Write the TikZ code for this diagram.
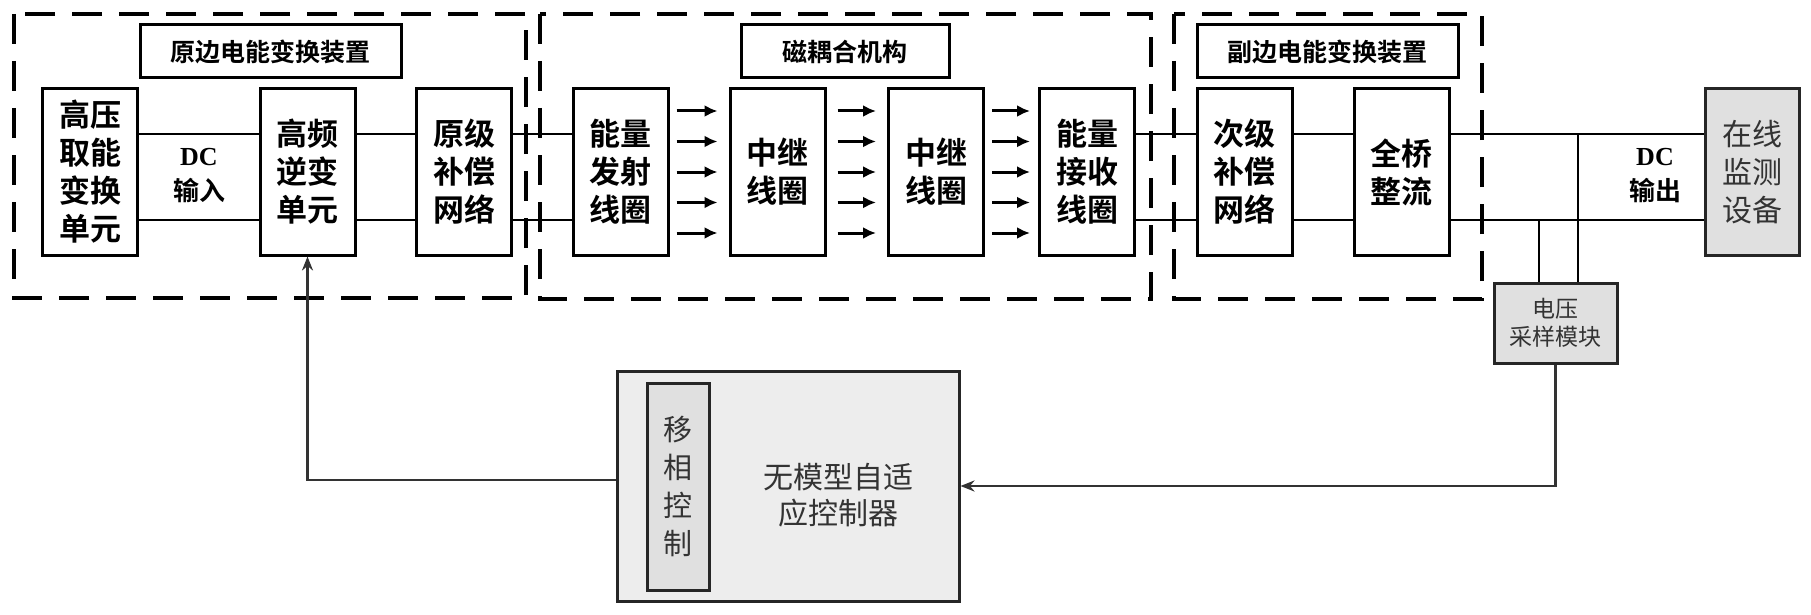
\documentclass[tikz,border=0pt]{standalone}
\usepackage{fontspec}
\setmainfont{Liberation Serif}
\newfontfamily\cjk{Noto Sans CJK SC}[BoldFont={Noto Sans CJK SC Bold}]
\usetikzlibrary{arrows.meta}
\usetikzlibrary{calc}

\begin{document}
\begin{tikzpicture}[x=1pt,y=-1pt,
  blk/.style={draw,line width=3pt,minimum width=95pt,minimum height=166pt,inner sep=0pt,align=center,
    font=\fontsize{31}{38}\selectfont\cjk\bfseries},
  ttl/.style={draw,line width=3pt,minimum height=53pt,inner sep=0pt,font=\fontsize{25}{30}\selectfont\cjk\bfseries},
  grp/.style={line width=4pt,dash pattern=on 30pt off 17pt},
  wire/.style={line width=2.8pt},
  tap/.style={line width=2.2pt},
  flow/.style={line width=3pt,-{Latex[length=13pt,width=12pt]}},
  fb/.style={line width=2.6pt,draw=black!80,-{Stealth[length=14pt,width=11pt]}},
  lbl/.style={align=center,inner sep=0pt,font=\fontsize{26}{35}\selectfont\bfseries},
  gbox/.style={draw=black!85,line width=3pt,fill=black!12,inner sep=0pt,align=center,text=black!80}
]
\useasboundingbox (0,0) rectangle (1811,615);

% dashed groups
\draw [grp] (14,14) rectangle (526,298);
\draw [grp] (540,14) rectangle (1151,299);
\draw [grp] (1174,14) rectangle (1482,299);

\node [ttl,minimum width=261pt] (t1) at (270.5,51.5) {原边电能变换装置};
\node [ttl,minimum width=208pt] (t2) at (845,51.5) {磁耦合机构};
\node [ttl,minimum width=261pt] (t3) at (1327.5,51.5) {副边电能变换装置};

\coordinate (up) at (0,134);
\coordinate (dn) at (0,220);

\node [blk] (hv) at (90,172) {高压\\取能\\变换\\单元};
\node [blk] (inv) at (307.5,172) {高频\\逆变\\单元};
\node [blk] (pc) at (464,172) {原级\\补偿\\网络};
\node [blk] (tx) at (620.5,172) {能量\\发射\\线圈};
\node [blk] (ra) at (777.5,172) {中继\\线圈};
\node [blk] (rb) at (936,172) {中继\\线圈};
\node [blk] (rx) at (1087,172) {能量\\接收\\线圈};
\node [blk] (sc) at (1244.5,172) {次级\\补偿\\网络};
\node [blk] (fb) at (1401.5,172) {全桥\\整流};
\node [gbox,minimum width=94pt,minimum height=166pt,font=\fontsize{30}{38}\selectfont\cjk] (mon) at (1752,172) {在线\\监测\\设备};

\node [lbl] (dcin) at (199,176) {DC\\{\cjk 输入}};
\node [lbl] (dcout) at (1655,176) {DC\\{\cjk 输出}};

\foreach \a/\b in {hv/inv,inv/pc,pc/tx,rx/sc,sc/fb,fb/mon} {
  \draw [wire] (\a.east |- up) -- (\b.west |- up);
  \draw [wire] (\a.east |- dn) -- (\b.west |- dn);
}
\foreach \k in {-2,...,2} {
  \draw [flow] ($(tx.east)+(7,30.5*\k)$) -- ($(ra.west)+(-11,30.5*\k)$);
  \draw [flow] ($(ra.east)+(11,30.5*\k)$) -- ($(rb.west)+(-11,30.5*\k)$);
  \draw [flow] ($(rb.east)+(7,30.5*\k)$) -- ($(rx.west)+(-8,30.5*\k)$);
}

\node [gbox,minimum width=123pt,minimum height=80pt,font=\fontsize{23}{28}\selectfont\cjk] (vs) at (1555.5,323) {电压\\采样模块};
\draw [tap] ([xshift=22.5pt]vs.north) -- ([xshift=22.5pt]vs.north |- up);
\draw [tap] ([xshift=-16.5pt]vs.north) -- ([xshift=-16.5pt]vs.north |- dn);

\node [gbox,fill=black!7,minimum width=342pt,minimum height=230pt] (ctrl) at (788,486) {};
\node [gbox,minimum width=62pt,minimum height=207pt,font=\fontsize{29}{38}\selectfont\cjk] (ps) at (678,486.5) {移\\相\\控\\制};
\node [align=center,inner sep=0pt,text=black!80,font=\fontsize{30}{36}\selectfont\cjk] (mfac) at (838,495) {无模型自适\\应控制器};

\draw [fb] ([yshift=6pt]ctrl.west) -| (inv.south);
\draw [fb] (vs.south) |- (ctrl.east);
\end{tikzpicture}
\end{document}
